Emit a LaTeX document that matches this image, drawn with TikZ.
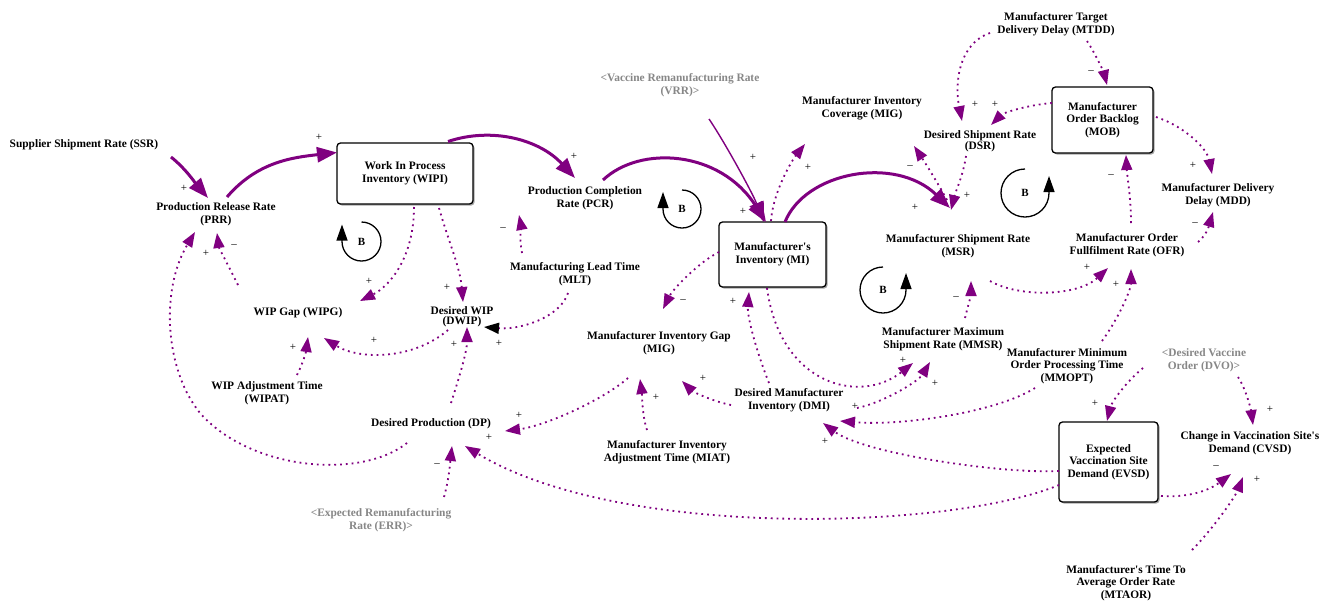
\documentclass[tikz,border=0pt]{standalone}
\usepackage{fontspec}
\setmainfont{Liberation Serif}
\usetikzlibrary{arrows.meta,shadows}
\definecolor{sdpurple}{RGB}{128,0,128}
\definecolor{ghostgray}{RGB}{135,135,135}
\begin{document}
\begin{tikzpicture}[x=1pt,y=-1pt,
  every node/.style={inner sep=0pt},
  var/.style={font=\fontsize{11.4}{12.6}\selectfont\bfseries, align=center, text=black},
  ghostvar/.style={var, text=ghostgray},
  stock/.style={var, draw=black, line width=1.3pt, rounded corners=3.5pt, fill=white,
    drop shadow={shadow xshift=1.6pt, shadow yshift=-1.6pt, opacity=0.35, fill=black}},
  flow/.style={draw=sdpurple, line width=3pt, -{Triangle[length=20pt,width=15pt]}},
  thinflow/.style={draw=sdpurple, line width=1.4pt, -{Triangle[length=20pt,width=15pt]}},
  info/.style={draw=sdpurple, line width=1.8pt, dash pattern=on 1.8pt off 4pt,
    -{Triangle[length=15pt,width=11pt]}},
  infoblack/.style={info, -{Triangle[length=15pt,width=11pt,color=black]}},
  pol/.style={font=\fontsize{11}{11}\selectfont, text=black},
  loopmark/.style={draw=black, line width=1.3pt, -{Triangle[length=16pt,width=11pt]}},
  looptext/.style={font=\fontsize{11}{11}\selectfont\bfseries}
]
\useasboundingbox (0,0) rectangle (1327,603);
\fill[white] (0,0) rectangle (1327,603);

% ---------- variables and stocks ----------
\node[var] (SSR) at (84,145) {Supplier Shipment Rate (SSR)};
\node[var] (PRR) at (216,214) {Production Release Rate\\(PRR)};
\node[stock, minimum width=136pt, minimum height=61pt] (WIPI) at (405,173.5) {Work In Process\\Inventory (WIPI)};
\node[var] (PCR) at (585,198) {Production Completion\\Rate (PCR)};
\node[var] (MLT) at (575,274) {Manufacturing Lead Time\\(MLT)};
\node[ghostvar] (VRR) at (680,85) {<Vaccine Remanufacturing Rate\\(VRR)>};
\node[stock, minimum width=107pt, minimum height=65pt] (MI) at (772.5,254.5) {Manufacturer\textquotesingle s\\Inventory (MI)};
\node[var] (MIC) at (862,108) {Manufacturer Inventory\\Coverage (MIG)};
\node[var, font=\fontsize{11.4}{11}\selectfont\bfseries] (DSR) at (980,141) {Desired Shipment Rate\\(DSR)};
\node[var] (MTDD) at (1056,24) {Manufacturer Target\\Delivery Delay (MTDD)};
\node[stock, minimum width=101pt, minimum height=66pt] (MOB) at (1102.5,120) {Manufacturer\\Order Backlog\\(MOB)};
\node[var] (MDD) at (1218,195) {Manufacturer Delivery\\Delay (MDD)};
\node[var] (OFR) at (1127,245) {Manufacturer Order\\Fullfilment Rate (OFR)};
\node[var] (MSR) at (958,246) {Manufacturer Shipment Rate\\(MSR)};
\node[var] (MMSR) at (943,339) {Manufacturer Maximum\\Shipment Rate (MMSR)};
\node[var] (MMOPT) at (1067,366) {Manufacturer Minimum\\Order Processing Time\\(MMOPT)};
\node[ghostvar] (DVO) at (1204,360) {<Desired Vaccine\\Order (DVO)>};
\node[stock, minimum width=99pt, minimum height=80pt] (EVSD) at (1108.5,462) {Expected\\Vaccination Site\\Demand (EVSD)};
\node[var] (CVSD) at (1250,443) {Change in Vaccination Site\textquotesingle s\\Demand (CVSD)};
\node[var] (MTAOR) at (1126,583) {Manufacturer\textquotesingle s Time To\\Average Order Rate\\(MTAOR)};
\node[var] (WIPG) at (298,313) {WIP Gap (WIPG)};
\node[var, font=\fontsize{11.4}{10}\selectfont\bfseries] (DWIP) at (462,317) {Desired WIP\\(DWIP)};
\node[var] (WIPAT) at (267,393) {WIP Adjustment Time\\(WIPAT)};
\node[var] (DP) at (431,424) {Desired Production (DP)};
\node[ghostvar] (ERR) at (381,520) {<Expected Remanufacturing\\Rate (ERR)>};
\node[var] (MIG) at (659,343) {Manufacturer Inventory Gap\\(MIG)};
\node[var] (MIAT) at (667,452) {Manufacturer Inventory\\Adjustment Time (MIAT)};
\node[var] (DMI) at (789,400) {Desired Manufacturer\\Inventory (DMI)};

% ---------- material flows ----------
\draw[flow] ([shift={(87,12)}]SSR.center) .. controls +(15,12) and +(-12,-14) .. ([shift={(-8,-16)}]PRR.center);
\draw[flow] ([shift={(11,-17)}]PRR.center) .. controls +(30,-35) and +(-45,5) .. ([shift={(-68,-21)}]WIPI.center);
\draw[flow] ([shift={(43,-32)}]WIPI.center) .. controls +(45,-15) and +(-35,-38) .. ([shift={(-10,-20)}]PCR.center);
\draw[flow] ([shift={(18,-18)}]PCR.center) .. controls +(37,-35) and +(-46,-72) .. ([shift={(-6.5,-32.5)}]MI.center);
\draw[thinflow] ([shift={(-63.5,-135.5)}]MI.center) .. controls +(15,22) and +(-12,-30) .. ([shift={(-8.5,-32.5)}]MI.center);
\draw[flow] ([shift={(12.5,-32.5)}]MI.center) .. controls +(20,-50) and +(-55,-53) .. ([shift={(-8,-38)}]MSR.center);

% ---------- information links ----------
\draw[info] ([shift={(9,33.5)}]WIPI.center) .. controls +(0,50) and +(30,-15) .. ([shift={(62,-12)}]WIPG.center);
\draw[info] ([shift={(34,34.5)}]WIPI.center) .. controls +(10,35) and +(-3,-35) .. ([shift={(1,-15)}]DWIP.center);
\draw[infoblack] ([shift={(-7,19)}]MLT.center) .. controls +(-8,25) and +(35,3) .. ([shift={(22,10)}]DWIP.center);
\draw[info] ([shift={(-14,13)}]DWIP.center) .. controls +(-35,30) and +(35,22) .. ([shift={(26,25)}]WIPG.center);
\draw[info] ([shift={(30,-18)}]WIPAT.center) .. controls +(6,-12) and +(-2,15) .. ([shift={(10,24)}]WIPG.center);
\draw[info] ([shift={(20,-21)}]DP.center) .. controls +(8,-25) and +(0,25) .. ([shift={(5,10)}]DWIP.center);
\draw[info] ([shift={(-60,-28)}]WIPG.center) .. controls +(-10,-20) and +(2,15) .. ([shift={(1,19)}]PRR.center);
\draw[info] ([shift={(-24,19)}]DP.center) .. controls (360,480) and (250,470) .. (200,413)
  .. controls (165,370) and (160,290) .. ([shift={(-21,18)}]PRR.center);
\draw[info] ([shift={(63,-23)}]ERR.center) .. controls +(5,-18) and +(-2,18) .. ([shift={(21,22)}]DP.center);
\draw[info] ([shift={(-31,35)}]MIG.center) .. controls +(-25,22) and +(40,-5) .. ([shift={(74,7)}]DP.center);
\draw[info] ([shift={(-49.5,23)}]EVSD.center) .. controls +(-109,45) and +(155,94) .. ([shift={(34,22)}]DP.center);
\draw[info] ([shift={(-20,-22)}]MIAT.center) .. controls +(-5,-15) and +(2,15) .. ([shift={(-19,36)}]MIG.center);
\draw[info] ([shift={(-58,5)}]DMI.center) .. controls +(-20,-4) and +(10,10) .. ([shift={(23,38)}]MIG.center);
\draw[info] ([shift={(-53.5,-2.5)}]MI.center) .. controls +(-20,10) and +(10,-20) .. ([shift={(4,-34)}]MIG.center);
\draw[info] ([shift={(-20,-17)}]DMI.center) .. controls +(-12,-30) and +(-2,25) .. ([shift={(-23.5,37.5)}]MI.center);
\draw[info] ([shift={(-5.5,33.5)}]MI.center) .. controls +(13,97) and +(-53,42) .. ([shift={(-30,24)}]MMSR.center);
\draw[info] ([shift={(68,8)}]DMI.center) .. controls +(25,-5) and +(-12,20) .. ([shift={(-13,23)}]MMSR.center);
\draw[info] ([shift={(-32,22)}]MMOPT.center) .. controls +(-40,25) and +(60,5) .. ([shift={(51,21)}]DMI.center);
\draw[info] ([shift={(-49.5,9)}]EVSD.center) .. controls +(-60,3) and +(40,30) .. ([shift={(34,23)}]DMI.center);
\draw[info] ([shift={(22,-21)}]MMSR.center) .. controls +(3,-12) and +(0,14) .. ([shift={(13,35)}]MSR.center);
\draw[info] ([shift={(32,35)}]MSR.center) .. controls +(30,17) and +(-30,28) .. ([shift={(-19,23)}]OFR.center);
\draw[info] ([shift={(35,-25)}]MMOPT.center) .. controls +(18,-25) and +(0,20) .. ([shift={(4,24)}]OFR.center);
\draw[info] ([shift={(4,-22)}]OFR.center) .. controls +(0,-25) and +(1,20) .. ([shift={(23.5,35)}]MOB.center);
\draw[info] ([shift={(71,-3)}]OFR.center) .. controls +(10,-8) and +(-3,10) .. ([shift={(-5,17)}]MDD.center);
\draw[info] ([shift={(53.5,-3)}]MOB.center) .. controls +(30,10) and +(-5,-25) .. ([shift={(-6,-21)}]MDD.center);
\draw[info] ([shift={(31,17)}]MTDD.center) .. controls +(8,12) and +(-3,-12) .. ([shift={(4.5,-35)}]MOB.center);
\draw[info] ([shift={(-66,9)}]MTDD.center) .. controls +(-30,10) and +(-8,-40) .. ([shift={(-18,-20)}]DSR.center);
\draw[info] ([shift={(-50.5,-17)}]MOB.center) .. controls +(-25,2) and +(12,-12) .. ([shift={(11,-16)}]DSR.center);
\draw[info] ([shift={(-14,15)}]DSR.center) .. controls +(-3,20) and +(5,-20) .. ([shift={(-7,-36)}]MSR.center);
\draw[info] ([shift={(-11,-46)}]MSR.center) .. controls +(-8,-15) and +(10,15) .. ([shift={(52,38)}]MIC.center);
\draw[info] ([shift={(-1.5,-33.5)}]MI.center) .. controls +(2,-30) and +(-12,15) .. ([shift={(-57,36)}]MIC.center);
\draw[info] ([shift={(-61,8)}]DVO.center) .. controls +(-15,12) and +(5,-20) .. ([shift={(-1.5,-41)}]EVSD.center);
\draw[info] ([shift={(34,17)}]DVO.center) .. controls +(8,12) and +(-2,-15) .. ([shift={(3,-18)}]CVSD.center);
\draw[info] ([shift={(52.5,34)}]EVSD.center) .. controls +(30,2) and +(-20,15) .. ([shift={(-19,31)}]CVSD.center);
\draw[info] ([shift={(66,-33)}]MTAOR.center) .. controls +(20,-20) and +(-8,20) .. ([shift={(-7,34)}]CVSD.center);
\draw[info] ([shift={(-53,-21)}]MLT.center) .. controls +(-3,-15) and +(2,10) .. ([shift={(-66,17)}]PCR.center);

% ---------- polarity signs ----------
\foreach \px/\py/\sg [count=\k] in {
  184/188/+, 319/137/+, 574/156/+, 743/211/+, 753/157/+, 808/167/+, 915/207/+,
  910/167/–, 967/195/+, 975/104/+, 995/104/+, 1091/72/–, 1193/165/+, 1111/176/–,
  1195/224/–, 1087/267/+, 1116/284/+, 956/298/–, 903/360/+, 935/383/+, 855/406/+,
  825/441/+, 703/378/+, 656/397/+, 683/301/–, 733/301/+, 519/415/+, 489/437/+,
  437/465/–, 454/344/+, 499/343/+, 374/340/+, 293/347/+, 369/281/+, 447/287/+,
  206/253/+, 234/246/–, 503/229/–, 1095/403/+, 1270/409/+, 1216/467/–, 1257/479/+}
  \node[pol] (sign\k) at (\px,\py) {\sg};

% ---------- balancing loop markers ----------
\draw[loopmark] (361.5,222) arc[start angle=-90, end angle=180, radius=19.5] -- ++(0,-17);
\node[looptext] (loopB1) at (361.5,242) {B};
\draw[loopmark] (682,190) arc[start angle=-90, end angle=180, radius=19] -- ++(0,-17);
\node[looptext] (loopB2) at (682,209) {B};
\draw[loopmark] (1025,169) arc[start angle=-90, end angle=-360, radius=24] -- ++(0,-17);
\node[looptext] (loopB3) at (1025,193) {B};
\draw[loopmark] (883,267) arc[start angle=-90, end angle=-360, radius=23] -- ++(0,-17);
\node[looptext] (loopB4) at (883,290) {B};
\end{tikzpicture}
\end{document}
